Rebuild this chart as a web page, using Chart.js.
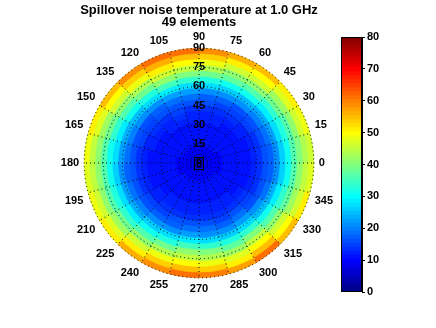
<!DOCTYPE html>
<html><head><meta charset="utf-8">
<script src="https://cdn.jsdelivr.net/npm/chart.js@4"></script>
<style>
html,body{margin:0;padding:0;background:#fff;width:436px;height:328px;overflow:hidden}
#polarBox{position:absolute;left:0;top:0;width:398px;height:328px}
#barBox{position:absolute;left:336px;top:25px;width:100px;height:280px}
</style></head><body>
<div id="polarBox"><canvas id="polar"></canvas></div>
<div id="barBox"><canvas id="cbar"></canvas></div>
<script>
// ---- text / tick labels ----
const titleLines = ['Spillover noise temperature at 1.0 GHz', '49 elements'];
// angle labels, clockwise starting at the top
const angleLabels = ['90','75','60','45','30','15','0','345','330','315','300','285','270','255','240','225','210','195','180','165','150','135','120','105'];
const radialMax = 90;
const radialStep = 15;
const colorMin = 0, colorMax = 80, colorStep = 10;
// outer radius (deg) of each ring, centre -> edge
const ringEdges = [4.5, 9, 13.5, 18, 22.5, 27, 31.5, 36, 40.5, 45, 49.5, 54, 58.5, 63, 67.5, 72, 76.5, 81, 85.5, 90];
// temperature (K) per ring; columns = 15-deg sectors counter-clockwise from 0 deg (0-15, 15-30, ...)
const ring01 = [8,8,8,8,8,8,8,8,8,8,8,8,8,8,8,8,8,8,8,8,8,8,8,8];
const ring02 = [8,8,8,8,9,9,9,9,9,8,8,8,8,8,8,9,9,9,9,9,9,8,8,8];
const ring03 = [9,9,9,9,9,9,9,9,9,9,9,9,9,9,9,9,9,9,9,9,9,9,9,9];
const ring04 = [9,9,10,10,10,10,10,10,10,10,10,9,9,9,10,10,10,10,10,10,10,10,9,9];
const ring05 = [10,10,10,10,10,10,10,10,10,10,10,10,10,10,10,10,10,10,10,10,10,10,10,10];
const ring06 = [10,10,10,11,11,11,11,11,11,11,10,10,10,10,10,11,11,11,11,11,11,11,10,10];
const ring07 = [11,11,11,11,11,11,11,11,11,11,11,11,11,11,11,11,11,11,11,11,11,11,11,11];
const ring08 = [11,11,11,11,12,12,12,12,12,11,11,11,11,11,11,12,12,12,12,12,12,11,11,11];
const ring09 = [11,11,12,12,12,12,12,13,12,12,12,11,11,11,12,12,12,12,12,12,12,12,11,11];
const ring10 = [12,12,12,13,13,13,13,14,13,13,12,12,12,12,12,13,13,13,13,13,13,13,12,12];
const ring11 = [13,13,14,14,14,15,15,15,15,14,14,13,13,13,14,14,15,15,15,14,15,14,13,13];
const ring12 = [15,15,16,16,17,17,18,18,17,16,16,15,15,15,16,17,17,18,18,17,18,16,16,15];
const ring13 = [17,18,19,20,20,21,22,22,21,20,19,18,17,18,19,20,21,22,21,21,22,20,18,17];
const ring14 = [21,22,23,24,26,27,27,28,27,24,23,22,21,22,23,25,27,28,27,26,27,24,23,21];
const ring15 = [26,27,28,30,31,32,33,34,32,30,28,27,26,27,28,31,32,34,33,32,33,30,28,26];
const ring16 = [30,32,33,35,37,38,39,40,38,35,33,31,31,32,33,36,38,40,39,37,39,35,33,31];
const ring17 = [35,36,38,40,41,43,44,45,43,40,38,36,35,36,38,41,43,44,43,42,44,40,37,35];
const ring18 = [39,41,42,45,46,48,49,50,48,45,42,40,40,41,42,46,48,49,48,47,49,45,42,40];
const ring19 = [43,45,47,49,51,53,54,55,53,49,47,44,44,45,47,50,53,54,53,51,54,49,46,44];
const ring20 = [46,48,50,54,56,58,60,61,58,54,50,48,47,48,50,55,58,60,59,57,60,54,50,47];
const rings = [ring01,ring02,ring03,ring04,ring05,ring06,ring07,ring08,ring09,ring10,
               ring11,ring12,ring13,ring14,ring15,ring16,ring17,ring18,ring19,ring20];

// ---- MATLAB jet(64) colormap ----
function jet(m) {
  const n = Math.ceil(m / 4);
  const u = [];
  for (let i = 1; i <= n; i++) u.push(i / n);
  for (let i = 1; i < n; i++) u.push(1);
  for (let i = n; i >= 1; i--) u.push(i / n);
  const g0 = Math.ceil(n / 2) - (m % 4 === 1 ? 1 : 0);
  const R = new Array(m).fill(0), G = new Array(m).fill(0), B = new Array(m).fill(0);
  for (let k = 0; k < u.length; k++) {
    const gi = g0 + k + 1, ri = gi + n, bi = gi - n;
    if (gi >= 1 && gi <= m) G[gi - 1] = u[k];
    if (ri >= 1 && ri <= m) R[ri - 1] = u[k];
    if (bi >= 1 && bi <= m) B[bi - 1] = u[k];
  }
  return R.map((r, i) => `rgb(${Math.round(r*255)},${Math.round(G[i]*255)},${Math.round(B[i]*255)})`);
}
const cmap = jet(64);
function colorFor(v) {
  let idx = Math.floor((v - colorMin) / (colorMax - colorMin) * cmap.length);
  idx = Math.max(0, Math.min(cmap.length - 1, idx));
  return cmap[idx];
}

Chart.defaults.font.family = '"Liberation Sans", Arial, sans-serif';
Chart.defaults.color = '#000';

const nSect = angleLabels.length;
// polar slice i (clockwise from top) covers sector (5 - i) mod 24 counter-clockwise from 0 deg
const polarDatasets = rings.map((row, k) => {
  const cols = angleLabels.map((_, i) => colorFor(row[(5 - i + nSect) % nSect]));
  return {
    data: angleLabels.map(() => ringEdges[k]),
    backgroundColor: cols,
    borderColor: cols,
    borderWidth: 0.6
  };
});

const centerZero = {
  id: 'centerZero',
  afterDraw(chart) {
    const s = chart.scales.r, ctx = chart.ctx;
    const cx = Math.round(s.xCenter), cy = Math.round(s.yCenter);
    ctx.save();
    ctx.font = 'bold 11px "Liberation Sans", Arial, sans-serif';
    ctx.textAlign = 'center'; ctx.textBaseline = 'middle';
    ctx.fillStyle = '#000';
    ctx.fillText('0', cx, cy + 1);
    ctx.strokeStyle = '#000'; ctx.lineWidth = 1;
    ctx.strokeRect(cx - 4.5, cy - 5.5, 9, 12);
    ctx.restore();
  }
};

new Chart(document.getElementById('polar'), {
  type: 'polarArea',
  data: { labels: angleLabels, datasets: polarDatasets },
  options: {
    animation: false, responsive: true, maintainAspectRatio: false, events: [],
    layout: { padding: { top: 0, bottom: 32, left: 0, right: 0 } },
    plugins: {
      legend: { display: false }, tooltip: { enabled: false },
      title: { display: true, text: titleLines, color: '#000',
               font: { size: 13, weight: 'bold', lineHeight: '12px' }, padding: { top: 4, bottom: 2 } }
    },
    scales: {
      r: {
        min: 0, max: radialMax, startAngle: 0,
        ticks: { stepSize: radialStep, showLabelBackdrop: false, color: '#000',
                 backdropPadding: -5.5,
                 font: { size: 11, weight: 'bold' }, z: 2 },
        grid: { circular: true, color: '#000', lineWidth: 1, z: 1 },
        border: { dash: [1, 3] },
        angleLines: { display: true, color: '#000', lineWidth: 1, borderDash: [1, 3] },
        pointLabels: { display: true, centerPointLabels: false, padding: 5, color: '#000',
                       font: { size: 11, weight: 'bold' } }
      }
    }
  },
  plugins: [centerZero]
});

// ---- colorbar ----
const boxPlugin = {
  id: 'box',
  afterDraw(chart) {
    const a = chart.chartArea, ctx = chart.ctx;
    ctx.save(); ctx.strokeStyle = '#000'; ctx.lineWidth = 1;
    ctx.strokeRect(Math.round(a.left) + 0.5, Math.round(a.top) + 0.5,
                   Math.round(a.right - a.left) - 1, Math.round(a.bottom - a.top) - 1);
    ctx.restore();
  }
};
const segW = (colorMax - colorMin) / cmap.length;
new Chart(document.getElementById('cbar'), {
  type: 'bar',
  data: {
    labels: [''],
    datasets: cmap.map((c, i) => ({
      data: [[colorMin + i * segW, Math.min(colorMax, colorMin + (i + 1) * segW + 0.4)]],
      backgroundColor: c, borderWidth: 0, grouped: false,
      barPercentage: 1, categoryPercentage: 1
    }))
  },
  options: {
    animation: false, responsive: true, maintainAspectRatio: false, events: [],
    layout: { padding: { left: 5, right: 44, top: 12, bottom: 13 } },
    plugins: { legend: { display: false }, tooltip: { enabled: false } },
    scales: {
      x: { display: false },
      y: {
        position: 'right', min: colorMin, max: colorMax,
        ticks: { stepSize: colorStep, color: '#000', font: { size: 11, weight: 'bold' }, padding: 2 },
        grid: { drawOnChartArea: false, drawTicks: true, tickLength: 3, color: '#000' },
        border: { display: true, color: '#000' },
        afterFit(s) { s.width = 30; }
      }
    }
  },
  plugins: [boxPlugin]
});
</script>
</body></html>
